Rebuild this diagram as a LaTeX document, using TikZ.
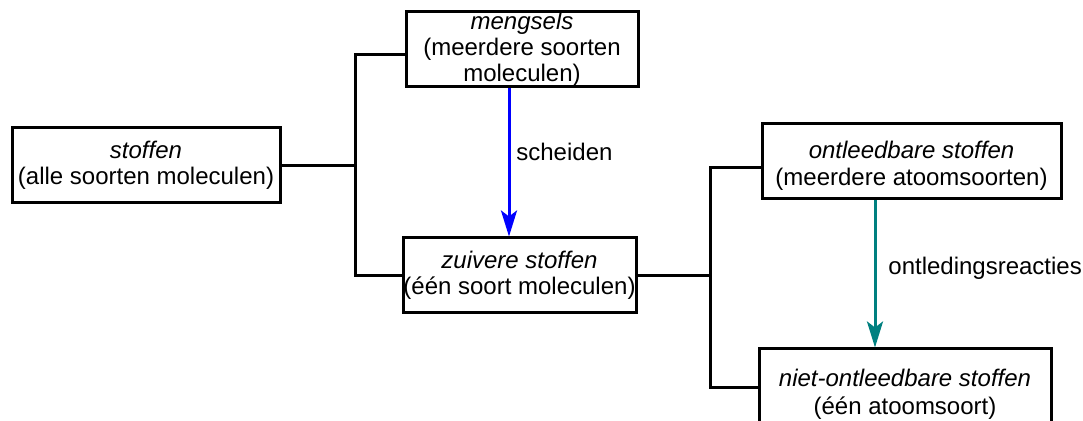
\documentclass[tikz,border=0pt]{standalone}
\usepackage{fontspec}
\setmainfont{Liberation Sans}
\usetikzlibrary{arrows.meta}
\definecolor{tealarrow}{RGB}{0,128,128}
\tikzset{
  box/.style={draw=black, line width=1.5pt, fill=white, inner sep=0pt,
    align=center, font=\fontsize{12pt}{13pt}\selectfont},
  link/.style={line width=1.5pt},
  flow/.style={line width=1.5pt, -{Stealth[length=13pt,width=8pt,inset=3pt]}},
  lbl/.style={anchor=west, inner sep=0pt, font=\fontsize{12pt}{13pt}\selectfont}
}
\begin{document}
\begin{tikzpicture}[x=0.5pt, y=-0.5pt]
\useasboundingbox (0,0) rectangle (1083,421);
\clip (0,0) rectangle (1083,421);
\fill[white] (0,0) rectangle (1083,421);

% boxes
\node[box, minimum width=134pt, minimum height=37.5pt] (stoffen) at (146,165.5)
  {\textit{stoffen}\\(alle soorten moleculen)};
\node[box, minimum width=116pt, minimum height=37.5pt] (mengsels) at (522,49.5)
  {\textit{mengsels}\\(meerdere soorten\\moleculen)};
\node[box, minimum width=116.5pt, minimum height=37.5pt] (zuiver) at (519.5,275.5)
  {\textit{zuivere stoffen}\\(één soort moleculen)};
\node[box, minimum width=149.5pt, minimum height=37.5pt,
      font=\fontsize{12pt}{13.5pt}\selectfont] (ontleed) at (911.5,161.5)
  {\rule{0pt}{13pt}\textit{ontleedbare stoffen}\\(meerdere atoomsoorten)};
\node[box, minimum width=146pt, minimum height=45pt,
      font=\fontsize{12pt}{14pt}\selectfont] (niet) at (905,394)
  {\textit{niet-ontleedbare stoffen}\\(één atoomsoort)};

% bracket columns and arrow columns
\coordinate (b1) at (355,0);
\coordinate (b2) at (710.5,0);
\coordinate (a1) at (509,0);
\coordinate (a2) at (875,0);
\coordinate (nb) at ([yshift=3.25pt]niet.west);

% left bracket
\draw[link] (stoffen.east) -- (stoffen.east -| b1);
\draw[link] ([yshift=-2.75pt]mengsels.west) -| (b1 |- zuiver.west) -- (zuiver.west);

% right bracket
\draw[link] (zuiver.east) -- (zuiver.east -| b2);
\draw[link] ([yshift=-3.25pt]ontleed.west) -| (b2 |- nb) -- (nb);

% processes
\draw[flow, draw=blue] (mengsels.south -| a1) -- (zuiver.north -| a1);
\node[lbl] (scheiden) at (516,152) {scheiden};
\draw[flow, draw=tealarrow] (ontleed.south -| a2) -- (niet.north -| a2);
\node[lbl] (ontleding) at (888,268) {ontledingsreacties};
\end{tikzpicture}
\end{document}
